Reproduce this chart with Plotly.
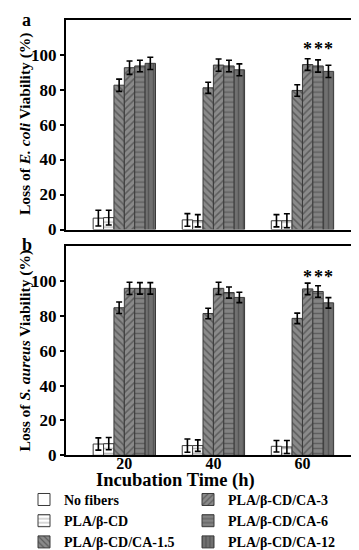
import plotly.graph_objects as go

times = [20, 40, 60]
series_names = ["No fibers", "PLA/β-CD", "PLA/β-CD/CA-1.5",
                "PLA/β-CD/CA-3", "PLA/β-CD/CA-6", "PLA/β-CD/CA-12"]

# Panel a: E. coli
ecoli_nofib = [6.5, 5.5, 5.0]
ecoli_nofib_err = [4.5, 3.6, 3.5]
ecoli_cd = [6.8, 5.0, 5.0]
ecoli_cd_err = [4.2, 3.5, 4.0]
ecoli_ca15 = [82.5, 81.0, 79.5]
ecoli_ca15_err = [3.5, 3.2, 3.3]
ecoli_ca3 = [92.5, 94.0, 94.3]
ecoli_ca3_err = [3.8, 3.5, 3.3]
ecoli_ca6 = [93.5, 93.5, 93.5]
ecoli_ca6_err = [3.3, 3.3, 3.5]
ecoli_ca12 = [95.0, 91.3, 90.4]
ecoli_ca12_err = [3.5, 3.4, 3.5]

# Panel b: S. aureus
saur_nofib = [6.5, 5.6, 5.2]
saur_nofib_err = [3.5, 3.8, 3.3]
saur_cd = [6.7, 5.6, 4.8]
saur_cd_err = [3.5, 3.3, 3.7]
saur_ca15 = [84.6, 81.3, 78.5]
saur_ca15_err = [3.3, 3.0, 3.0]
saur_ca3 = [95.7, 95.7, 95.4]
saur_ca3_err = [3.5, 3.5, 3.3]
saur_ca6 = [95.7, 93.3, 93.9]
saur_ca6_err = [3.3, 3.2, 3.3]
saur_ca12 = [95.7, 90.5, 87.4]
saur_ca12_err = [3.3, 3.0, 3.0]

sig_label = "*"
sig_time = 60
sig_series = [3, 4, 5]
sig_y = [103, 102]

ecoli_vals = [ecoli_nofib, ecoli_cd, ecoli_ca15, ecoli_ca3, ecoli_ca6, ecoli_ca12]
ecoli_errs = [ecoli_nofib_err, ecoli_cd_err, ecoli_ca15_err, ecoli_ca3_err, ecoli_ca6_err, ecoli_ca12_err]
saur_vals = [saur_nofib, saur_cd, saur_ca15, saur_ca3, saur_ca6, saur_ca12]
saur_errs = [saur_nofib_err, saur_cd_err, saur_ca15_err, saur_ca3_err, saur_ca6_err, saur_ca12_err]

styles = [
    dict(color="white", shape="", fg="#555555"),
    dict(color="white", shape="-", fg="#777777"),
    dict(color="#8a8a8a", shape="\\", fg="#2e2e2e"),
    dict(color="#8a8a8a", shape="/", fg="#2e2e2e"),
    dict(color="#838383", shape="-", fg="#3a3a3a"),
    dict(color="#707070", shape="|", fg="#3a3a3a"),
]

FONT = "Liberation Serif"
fig = go.Figure()

for panel, (vals, errs, xa, ya) in enumerate([(ecoli_vals, ecoli_errs, "x", "y"),
                                               (saur_vals, saur_errs, "x2", "y2")]):
    for i, name in enumerate(series_names):
        st = styles[i]
        fig.add_trace(go.Bar(
            x=times, y=vals[i], name="<b>" + name + "</b>", xaxis=xa, yaxis=ya,
            showlegend=(panel == 1),
            legend="legend" if i < 3 else "legend2",
            marker=dict(color=st["color"],
                        line=dict(color="#3a3a3a", width=1),
                        pattern=dict(shape=st["shape"], fgcolor=st["fg"],
                                     bgcolor=st["color"], size=5, solidity=0.3)),
            error_y=dict(type="data", array=errs[i], color="black",
                         thickness=1.6, width=3),
        ))

W, H = 359, 550
L, R = 58, 16
pw = W - L - R

def px_x(p):
    return (p - L) / pw

def px_y(p):
    return 1 - p / H

bargap = 0.30
spacing = 20
bar_w = (1 - bargap) * spacing / len(series_names)
annotations = []
for panel, (xa, ya) in enumerate([("x", "y"), ("x2", "y2")]):
    for i in sig_series:
        annotations.append(dict(
            x=sig_time + (i - (len(series_names) - 1) / 2) * bar_w, y=sig_y[panel],
            xref=xa, yref=ya, text="<b>" + sig_label + "</b>", showarrow=False,
            font=dict(family=FONT, size=18, color="black")))

annotations.append(dict(x=px_x(12), y=px_y(12), xref="paper", yref="paper",
                        xanchor="left", yanchor="middle", text="<b>a</b>",
                        showarrow=False, font=dict(family=FONT, size=18, color="black")))
annotations.append(dict(x=px_x(12), y=px_y(245), xref="paper", yref="paper",
                        xanchor="left", yanchor="middle", text="<b>b</b>",
                        showarrow=False, font=dict(family=FONT, size=18, color="black")))
# axis titles
annotations.append(dict(x=px_x(167), y=px_y(488), xref="paper", yref="paper",
                        xanchor="center", yanchor="middle", text="<b>Incubation Time (h)</b>",
                        showarrow=False, font=dict(family=FONT, size=18.5, color="black")))
annotations.append(dict(x=px_x(17), y=px_y(120), xref="paper", yref="paper",
                        xanchor="center", yanchor="middle", textangle=-90,
                        text="<b>Loss of <i>E. coli</i> Viability (%)</b>",
                        showarrow=False, font=dict(family=FONT, size=15.5, color="black")))
annotations.append(dict(x=px_x(17), y=px_y(354), xref="paper", yref="paper",
                        xanchor="center", yanchor="middle", textangle=-90,
                        text="<b>Loss of <i>S. aureus</i> Viability (%)</b>",
                        showarrow=False, font=dict(family=FONT, size=15.5, color="black")))

tickfont = dict(family=FONT, size=17, color="black", weight="bold")
xaxis_common = dict(range=[6.9, 70.9], showline=True, linecolor="black", linewidth=2,
                    mirror=True, ticks="", showgrid=False, zeroline=False,
                    tickvals=times, tickfont=dict(family=FONT, size=16, color="black", weight="bold"))
yaxis_common = dict(range=[0, 120], showline=True, linecolor="black", linewidth=2,
                    mirror=True, ticks="outside", ticklen=4, tickwidth=1.5, tickcolor="black",
                    tickvals=[0, 20, 40, 60, 80, 100], showgrid=False, zeroline=False,
                    tickfont=tickfont)

legend_common = dict(xanchor="left", yanchor="top",
                     font=dict(family=FONT, size=14, color="black"),
                     bgcolor="rgba(0,0,0,0)", tracegroupgap=0, traceorder="normal")

fig.update_layout(
    width=W, height=H,
    margin=dict(l=L, r=R, t=0, b=0),
    paper_bgcolor="white", plot_bgcolor="white",
    barmode="group", bargap=bargap, bargroupgap=0,
    font=dict(family=FONT, color="black"),
    xaxis=dict(**xaxis_common, domain=[0, 1], anchor="y", showticklabels=False),
    yaxis=dict(**yaxis_common, domain=[px_y(229), px_y(12)], anchor="x"),
    xaxis2=dict(**xaxis_common, domain=[0, 1], anchor="y2", showticklabels=True,
                ticklabelstandoff=-8),
    yaxis2=dict(**yaxis_common, domain=[px_y(462.5), px_y(246)], anchor="x2"),
    legend=dict(**legend_common, x=px_x(16), y=px_y(492)),
    legend2=dict(**legend_common, x=px_x(180), y=px_y(492)),
    annotations=annotations,
)

fig.write_html("out.html")
